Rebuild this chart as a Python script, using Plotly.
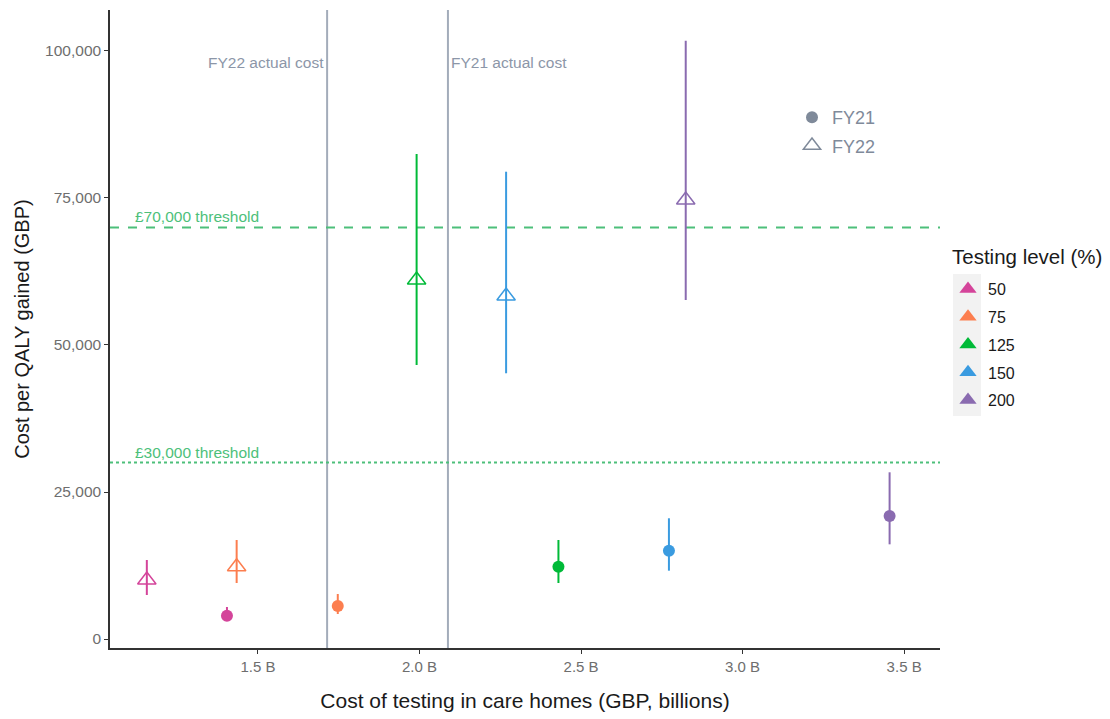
import plotly.graph_objects as go

# ---- data ----
levels = ["50", "75", "125", "150", "200"]
level_colors = ["#D4449A", "#FC7E4F", "#00BA38", "#3A9BE0", "#8A6BB0"]

fy21_cost = [1.404, 1.747, 2.430, 2.772, 3.455]
fy21_cpq = [3960, 5610, 12300, 15020, 20920]
fy21_lo = [3230, 4250, 9520, 11620, 16100]
fy21_hi = [5440, 7650, 16840, 20530, 28350]

fy22_cost = [1.156, 1.434, 1.991, 2.268, 2.824]
fy22_cpq = [10030, 12300, 61050, 58330, 74660]
fy22_lo = [7480, 9520, 46600, 45190, 57650]
fy22_hi = [13440, 16840, 82480, 79470, 101750]

actual_cost_labels = ["FY22 actual cost", "FY21 actual cost"]
actual_cost_values = [1.714, 2.088]

threshold_labels = ["£70,000 threshold", "£30,000 threshold"]
threshold_values = [70000, 30000]
threshold_dash = ["dash", "dot"]

x_tickvals = [1.5, 2.0, 2.5, 3.0, 3.5]
x_ticktext = ["1.5 B", "2.0 B", "2.5 B", "3.0 B", "3.5 B"]
y_tickvals = [0, 25000, 50000, 75000, 100000]
y_ticktext = ["0", "25,000", "50,000", "75,000", "100,000"]

FONT = "Liberation Sans, Arial, sans-serif"
GREY_LINE = "#A3ACBA"
GREY_TEXT = "#8C96A8"
THRESH_COL = "#4DBF7A"
TICK_COL = "#6E6E6E"

# plot-area helpers (screen pixels -> paper fractions)
PX0, PX1, PY0, PY1 = 110, 940, 10, 648


def px(xs):
    return (xs - PX0) / (PX1 - PX0)


def py(ys):
    return (PY1 - ys) / (PY1 - PY0)


fig = go.Figure()

# FY22 triangles
for i, lev in enumerate(levels):
    fig.add_trace(go.Scatter(
        x=[fy22_cost[i]], y=[fy22_cpq[i]], mode="markers",
        marker=dict(symbol="triangle-up-open", size=16, color=level_colors[i],
                    line=dict(width=1.5, color=level_colors[i])),
        error_y=dict(type="data", symmetric=False,
                     array=[fy22_hi[i] - fy22_cpq[i]],
                     arrayminus=[fy22_cpq[i] - fy22_lo[i]],
                     width=0, thickness=2, color=level_colors[i]),
        showlegend=False, hoverinfo="skip"))

# FY21 circles
for i, lev in enumerate(levels):
    fig.add_trace(go.Scatter(
        x=[fy21_cost[i]], y=[fy21_cpq[i]], mode="markers",
        marker=dict(symbol="circle", size=12, color=level_colors[i]),
        error_y=dict(type="data", symmetric=False,
                     array=[fy21_hi[i] - fy21_cpq[i]],
                     arrayminus=[fy21_cpq[i] - fy21_lo[i]],
                     width=0, thickness=2, color=level_colors[i]),
        showlegend=False, hoverinfo="skip"))

# Testing level legend (legend)
for i, lev in enumerate(levels):
    fig.add_trace(go.Scatter(
        x=[None], y=[None], mode="markers", name=lev, legendgroup=lev,
        marker=dict(symbol="triangle-up", size=15, color=level_colors[i]),
        legend="legend", showlegend=True))

# FY legend (legend2)
fig.add_trace(go.Scatter(x=[None], y=[None], mode="markers", name="FY21",
                         marker=dict(symbol="circle", size=12, color="#7F8A9A"),
                         legend="legend2", legendgroup="FY21"))
fig.add_trace(go.Scatter(x=[None], y=[None], mode="markers", name="FY22",
                         marker=dict(symbol="triangle-up-open", size=15, color="#7F8A9A",
                                     line=dict(width=1.5, color="#7F8A9A")),
                         legend="legend2", legendgroup="FY22"))

shapes = []
annotations = []
for lab, v in zip(actual_cost_labels, actual_cost_values):
    shapes.append(dict(type="line", xref="x", yref="paper", x0=v, x1=v, y0=0, y1=1,
                       line=dict(color=GREY_LINE, width=2), layer="below"))
annotations.append(dict(x=actual_cost_values[0], y=98000, xref="x", yref="y",
                        text=actual_cost_labels[0], showarrow=False, xanchor="right",
                        xshift=-1, font=dict(size=15.5, color=GREY_TEXT, family=FONT)))
annotations.append(dict(x=actual_cost_values[1], y=98000, xref="x", yref="y",
                        text=actual_cost_labels[1], showarrow=False, xanchor="left",
                        xshift=1, font=dict(size=15.5, color=GREY_TEXT, family=FONT)))

for lab, v, d in zip(threshold_labels, threshold_values, threshold_dash):
    shapes.append(dict(type="line", xref="paper", yref="y", x0=0, x1=1, y0=v, y1=v,
                       line=dict(color=THRESH_COL, width=2, dash=d), layer="below"))
    annotations.append(dict(x=1.112, y=v, xref="x", yref="y", text=lab, showarrow=False,
                            xanchor="left", yanchor="bottom", yshift=0,
                            font=dict(size=15.5, color=THRESH_COL, family=FONT)))

# legend title as annotation
annotations.append(dict(x=px(950), y=py(257), xref="paper", yref="paper",
                        text="Testing level (%)", showarrow=False, xanchor="left",
                        yanchor="middle", font=dict(size=20.5, color="#1A1A1A", family=FONT)))

# grey background behind legend keys
shapes.append(dict(type="rect", xref="paper", yref="paper",
                   x0=px(953), x1=px(981), y0=py(416), y1=py(274),
                   fillcolor="#F2F2F2", line=dict(width=0), layer="below"))

fig.update_layout(
    width=1102, height=711,
    margin=dict(l=102, r=170, t=2, b=71),
    paper_bgcolor="white", plot_bgcolor="white",
    font=dict(family=FONT),
    shapes=shapes, annotations=annotations,
    legend=dict(x=px(948), y=py(272), xanchor="left", yanchor="top",
                font=dict(size=16, color="#1A1A1A"), tracegroupgap=4,
                bgcolor="rgba(0,0,0,0)", itemsizing="trace"),
    legend2=dict(x=px(792), y=py(99), xanchor="left", yanchor="top",
                 font=dict(size=18, color="#7F8A9A"), bgcolor="rgba(0,0,0,0)",
                 tracegroupgap=2, itemsizing="trace"),
    xaxis=dict(range=[1.042, 3.611], tickvals=x_tickvals, ticktext=x_ticktext,
               showgrid=False, zeroline=False, showline=True, linecolor="#333333",
               linewidth=1.5, ticks="outside", ticklen=4, tickcolor="#333333",
               tickfont=dict(size=15, color=TICK_COL),
               title=dict(text="Cost of testing in care homes (GBP, billions)",
                          font=dict(size=21, color="#1A1A1A"), standoff=20)),
    yaxis=dict(range=[-1530, 106970], tickvals=y_tickvals, ticktext=y_ticktext,
               showgrid=False, zeroline=False, showline=True, linecolor="#333333",
               linewidth=1.5, ticks="outside", ticklen=4, tickcolor="#333333",
               tickfont=dict(size=15.5, color=TICK_COL),
               title=dict(text="Cost per QALY gained (GBP)",
                          font=dict(size=20, color="#1A1A1A"), standoff=10)),
)

fig.write_html("out.html")
